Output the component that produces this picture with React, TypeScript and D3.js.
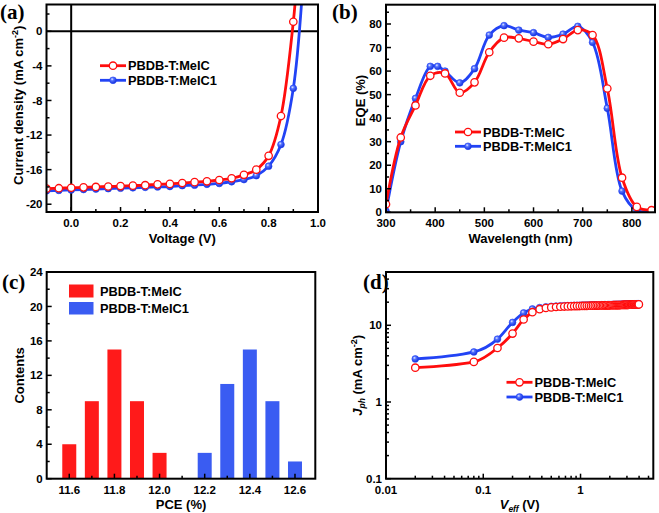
import React from 'react';
import * as d3 from 'd3';

// ---------- Data ----------
const seriesNames = ['PBDB-T:MeIC', 'PBDB-T:MeIC1'];

// (a) J-V
const jvVoltage = [-0.1, -0.05, 0, 0.05, 0.1, 0.15, 0.2, 0.25, 0.3, 0.35, 0.4, 0.45, 0.5, 0.55, 0.6, 0.65, 0.7, 0.75, 0.8, 0.85, 0.9];
const jvMeIC = [-18.2, -18.15, -18.1, -18.05, -18.0, -17.95, -17.9, -17.85, -17.8, -17.7, -17.65, -17.55, -17.45, -17.35, -17.2, -17.0, -16.6, -16.0, -14.4, -9.8, 1.1];
const jvMeIC1 = [-18.45, -18.4, -18.35, -18.3, -18.25, -18.2, -18.15, -18.1, -18.05, -18.0, -17.95, -17.85, -17.8, -17.7, -17.6, -17.4, -17.15, -16.7, -15.6, -13.1, -6.6];
const jvTailMeIC: [number, number] = [0.912, 5];
const jvTailMeIC1: [number, number] = [0.94, 6];
const jvXTicks = [0.0, 0.2, 0.4, 0.6, 0.8, 1.0];
const jvYTicks = [-20, -16, -12, -8, -4, 0];

// (b) EQE
const eqeWlMeIC = [300, 330, 360, 390, 420, 450, 480, 510, 540, 570, 600, 630, 660, 690, 720, 750, 780, 810, 840];
const eqeMeIC = [3.4, 31.8, 45.4, 58, 59, 50.8, 55.2, 68, 74.2, 73.9, 72.5, 71.4, 73.6, 77.4, 75.3, 52.6, 14.7, 2.3, 0.9];
const eqeWlMeIC1 = [300, 330, 360, 390, 405, 420, 450, 480, 510, 540, 570, 600, 630, 660, 690, 720, 750, 780, 810, 840];
const eqeMeIC1 = [0.5, 30, 48.4, 62, 62, 60, 55, 61, 75.3, 79.3, 77.4, 76.3, 74.3, 75.7, 79, 72.2, 44.2, 9, 0.8, 0.3];
const eqeXTicks = [300, 400, 500, 600, 700, 800];
const eqeYTicks = [0, 10, 20, 30, 40, 50, 60, 70, 80];

// (c) PCE histogram
const pceBinsMeIC = [11.6, 11.7, 11.8, 11.9, 12.0];
const pceCountsMeIC = [4, 9, 15, 9, 3];
const pceBinsMeIC1 = [12.2, 12.3, 12.4, 12.5, 12.6];
const pceCountsMeIC1 = [3, 11, 15, 9, 2];
const pceXTicks = [11.6, 11.8, 12.0, 12.2, 12.4, 12.6];
const pceYTicks = [0, 4, 8, 12, 16, 20, 24];

// (d) Jph - Veff
const veff = [0.02, 0.08, 0.14, 0.20, 0.26, 0.32, 0.38, 0.44, 0.50, 0.56,
  0.62, 0.68, 0.74, 0.80, 0.86, 0.92, 0.98, 1.04, 1.10, 1.16,
  1.22, 1.28, 1.34, 1.40, 1.46, 1.52, 1.58, 1.64, 1.70, 1.76,
  1.82, 1.88, 1.94, 2.00, 2.06, 2.12, 2.18, 2.24, 2.30, 2.36,
  2.42, 2.48, 2.54, 2.60, 2.66, 2.72, 2.78, 2.84, 2.90, 2.96,
  3.02, 3.08, 3.14, 3.20, 3.26, 3.32, 3.38, 3.44, 3.50, 3.56,
  3.62, 3.68, 3.74, 3.80, 3.86, 3.92, 3.98];
const jphMeIC = [2.8, 3.33, 5.06, 7.8, 11.9, 14.8, 16.2, 16.8, 17.1, 17.3,
  17.45, 17.55, 17.62, 17.68, 17.73, 17.78, 17.82, 17.86, 17.9, 17.93,
  17.96, 17.99, 18.02, 18.04, 18.06, 18.08, 18.1, 18.12, 18.14, 18.16,
  18.18, 18.2, 18.21, 18.22, 18.24, 18.25, 18.27, 18.28, 18.3, 18.31,
  18.33, 18.34, 18.36, 18.37, 18.39, 18.4, 18.42, 18.43, 18.45, 18.46,
  18.48, 18.49, 18.51, 18.52, 18.54, 18.55, 18.57, 18.58, 18.6, 18.61,
  18.63, 18.64, 18.66, 18.67, 18.69, 18.7, 18.72];
const jphMeIC1 = [3.64, 4.49, 6.6, 10.9, 14.5, 16.3, 17.0, 17.4, 17.65, 17.8,
  17.9, 17.98, 18.05, 18.1, 18.15, 18.19, 18.23, 18.26, 18.29, 18.32,
  18.35, 18.37, 18.39, 18.41, 18.43, 18.45, 18.47, 18.49, 18.51, 18.53,
  18.55, 18.56, 18.57, 18.58, 18.6, 18.61, 18.63, 18.64, 18.66, 18.67,
  18.69, 18.7, 18.72, 18.73, 18.75, 18.76, 18.78, 18.79, 18.81, 18.82,
  18.84, 18.85, 18.87, 18.88, 18.9, 18.91, 18.93, 18.94, 18.96, 18.97,
  18.99, 19.0, 19.02, 19.03, 19.05, 19.06, 19.08];
const veffTicks = [0.01, 0.1, 1];
const veffTickLabels = ['0.01', '0.1', '1'];
const jphTicks = [0.1, 1, 10];
const jphTickLabels = ['0.1', '1', '10'];

// ---------- Style ----------
const FONT = "'Liberation Sans', Arial, Helvetica, sans-serif";
const SERIF = "'Liberation Serif', 'Times New Roman', serif";
const RED = '#ff0d0d';
const BLUE = '#2243f5';
const BAR_RED = '#ff1a1a';
const BAR_BLUE = '#3a5cf2';
const TICK_FS = 11.5;
const TITLE_FS = 13;
const LEG_FS = 12.8;

type Scale = (v: number) => number;

function Frame({ l, t, r, b, id }: { l: number; t: number; r: number; b: number; id: string }) {
  return (
    <>
      <clipPath id={id}>
        <rect x={l} y={t} width={r - l} height={b - t} />
      </clipPath>
    </>
  );
}

function Border({ l, t, r, b }: { l: number; t: number; r: number; b: number }) {
  return <rect x={l} y={t} width={r - l} height={b - t} fill="none" stroke="#000" strokeWidth={2} />;
}

function BottomTicks({ x, b, major, minor, labels }: { x: Scale; b: number; major: number[]; minor: number[]; labels: string[] }) {
  return (
    <g>
      {minor.map((v, i) => (
        <line key={'m' + i} x1={x(v)} x2={x(v)} y1={b} y2={b - 3} stroke="#000" strokeWidth={1.5} />
      ))}
      {major.map((v, i) => (
        <line key={'M' + i} x1={x(v)} x2={x(v)} y1={b} y2={b - 5} stroke="#000" strokeWidth={1.5} />
      ))}
      {major.map((v, i) => (
        <text key={'t' + i} x={x(v)} y={b + 15} textAnchor="middle" fontFamily={FONT} fontWeight="bold" fontSize={TICK_FS}>
          {labels[i]}
        </text>
      ))}
    </g>
  );
}

function LeftTicks({ y, l, major, minor, labels }: { y: Scale; l: number; major: number[]; minor: number[]; labels: string[] }) {
  return (
    <g>
      {minor.map((v, i) => (
        <line key={'m' + i} x1={l} x2={l + 3} y1={y(v)} y2={y(v)} stroke="#000" strokeWidth={1.5} />
      ))}
      {major.map((v, i) => (
        <line key={'M' + i} x1={l} x2={l + 5} y1={y(v)} y2={y(v)} stroke="#000" strokeWidth={1.5} />
      ))}
      {major.map((v, i) => (
        <text key={'t' + i} x={l - 4} y={y(v)} dy="0.36em" textAnchor="end" fontFamily={FONT} fontWeight="bold" fontSize={TICK_FS}>
          {labels[i]}
        </text>
      ))}
    </g>
  );
}

function RedMarker({ cx, cy }: { cx: number; cy: number }) {
  return <circle cx={cx} cy={cy} r={3.7} fill="#fff" stroke={RED} strokeWidth={1.3} />;
}
function BlueMarker({ cx, cy }: { cx: number; cy: number }) {
  return <circle cx={cx} cy={cy} r={3.4} fill="url(#ballGrad)" stroke={BLUE} strokeWidth={0.6} />;
}

function LineLegend({ x, y, gap }: { x: number; y: number; gap: number }) {
  return (
    <g>
      {[0, 1].map((k) => {
        const yy = y + k * gap;
        const col = k === 0 ? RED : BLUE;
        return (
          <g key={k}>
            <line x1={x} x2={x + 26} y1={yy} y2={yy} stroke={col} strokeWidth={2.8} />
            {k === 0 ? <RedMarker cx={x + 13} cy={yy} /> : <BlueMarker cx={x + 13} cy={yy} />}
            <text x={x + 28} y={yy} dy="0.36em" fontFamily={FONT} fontWeight="bold" fontSize={LEG_FS}>
              {seriesNames[k]}
            </text>
          </g>
        );
      })}
    </g>
  );
}

function PanelLabel({ x, y, s }: { x: number; y: number; s: string }) {
  return (
    <text x={x} y={y} fontFamily={SERIF} fontWeight="bold" fontSize={21}>
      {s}
    </text>
  );
}

export default function App() {
  // ---- Panel A ----
  const A = { l: 46.5, t: 4.5, r: 318, b: 212 };
  const xA = d3.scaleLinear().domain([-0.1, 1.0]).range([A.l, A.r]);
  const yA = d3.scaleLinear().domain([-20.9, 3.1]).range([A.b, A.t]);
  const lineA = d3.line<[number, number]>().x((d) => xA(d[0])).y((d) => yA(d[1])).curve(d3.curveCatmullRom.alpha(0.5));
  const ptsA0: [number, number][] = jvVoltage.map((v, i) => [v, jvMeIC[i]]);
  const ptsA1: [number, number][] = jvVoltage.map((v, i) => [v, jvMeIC1[i]]);

  // ---- Panel B ----
  const B = { l: 386, t: 4.7, r: 655, b: 212.3 };
  const xB = d3.scaleLinear().domain([300, 847]).range([B.l, B.r]);
  const yB = d3.scaleLinear().domain([0, 88.2]).range([B.b, B.t]);
  const lineB = d3.line<[number, number]>().x((d) => xB(d[0])).y((d) => yB(d[1])).curve(d3.curveCatmullRom.alpha(0.5));
  const ptsB0: [number, number][] = eqeWlMeIC.map((v, i) => [v, eqeMeIC[i]]);
  const ptsB1: [number, number][] = eqeWlMeIC1.map((v, i) => [v, eqeMeIC1[i]]);

  // ---- Panel C ----
  const C = { l: 46.7, t: 272, r: 315.3, b: 478.7 };
  const xC = d3.scaleLinear().domain([11.5, 12.69]).range([C.l, C.r]);
  const yC = d3.scaleLinear().domain([0, 24]).range([C.b, C.t]);
  const barW = xC(11.562) - xC(11.5);

  // ---- Panel D ----
  const D = { l: 386, t: 272, r: 653.3, b: 478.7 };
  const xD = d3.scaleLog().domain([0.01, 5.6]).range([D.l, D.r]);
  const yD = d3.scaleLog().domain([0.1, 49.5]).range([D.b, D.t]);
  const lineD = d3.line<[number, number]>().x((d) => xD(d[0])).y((d) => yD(d[1])).curve(d3.curveMonotoneX);
  const ptsD0: [number, number][] = veff.map((v, i) => [v, jphMeIC[i]]);
  const ptsD1: [number, number][] = veff.map((v, i) => [v, jphMeIC1[i]]);

  const logMinor = (lo: number, hi: number) => {
    const out: number[] = [];
    for (let dec = lo; dec < hi; dec *= 10) for (let k = 2; k <= 9; k++) out.push(dec * k);
    return out;
  };
  const xDMinor = logMinor(0.01, 10).filter((v) => v < 5.6);
  const yDMinor = logMinor(0.1, 100).filter((v) => v < 49.5);

  const fmt1 = d3.format('.1f');

  return (
    <svg width={659} height={513} style={{ position: 'absolute', left: 0, top: 0, background: '#fff' }}>
      <defs>
        <radialGradient id="ballGrad" cx="0.38" cy="0.34" r="0.65">
          <stop offset="0" stopColor="#e4ebff" />
          <stop offset="0.35" stopColor="#5472ff" />
          <stop offset="1" stopColor="#1530d8" />
        </radialGradient>
        <Frame {...A} id="clipA" />
        <Frame {...B} id="clipB" />
        <Frame {...C} id="clipC" />
        <Frame {...D} id="clipD" />
      </defs>
      <rect x={0} y={0} width={659} height={513} fill="#fff" />

      {/* ===== Panel A ===== */}
      <g clipPath="url(#clipA)">
        <line x1={xA(0)} x2={xA(0)} y1={A.t} y2={A.b} stroke="#000" strokeWidth={2} />
        <line x1={A.l} x2={A.r} y1={yA(0)} y2={yA(0)} stroke="#000" strokeWidth={2} />
        <path d={lineA([...ptsA1, jvTailMeIC1]) || ''} fill="none" stroke={BLUE} strokeWidth={2.8} />
        {ptsA1.map((p, i) => <BlueMarker key={i} cx={xA(p[0])} cy={yA(p[1])} />)}
        <path d={lineA([...ptsA0, jvTailMeIC]) || ''} fill="none" stroke={RED} strokeWidth={2.8} />
        {ptsA0.map((p, i) => <RedMarker key={i} cx={xA(p[0])} cy={yA(p[1])} />)}
      </g>
      <Border {...A} />
      <BottomTicks x={xA} b={A.b} major={jvXTicks} minor={[0.1, 0.3, 0.5, 0.7, 0.9]} labels={jvXTicks.map(fmt1)} />
      <LeftTicks y={yA} l={A.l} major={jvYTicks} minor={[-18, -14, -10, -6, -2, 2]} labels={jvYTicks.map(String)} />
      <LineLegend x={100} y={65.7} gap={14.6} />
      <text x={(A.l + A.r) / 2} y={243} textAnchor="middle" fontFamily={FONT} fontWeight="bold" fontSize={TITLE_FS}>Voltage (V)</text>
      <text transform={`translate(18,${(A.t + A.b) / 2 - 3}) rotate(-90)`} textAnchor="middle" dy="0.36em" fontFamily={FONT} fontWeight="bold" fontSize={TITLE_FS}>
        Current density (mA cm<tspan dy="-5" fontSize={9}>-2</tspan><tspan dy="5">)</tspan>
      </text>
      <PanelLabel x={0} y={19} s="(a)" />

      {/* ===== Panel B ===== */}
      <g clipPath="url(#clipB)">
        <path d={lineB(ptsB1) || ''} fill="none" stroke={BLUE} strokeWidth={2.8} />
        {ptsB1.map((p, i) => <BlueMarker key={i} cx={xB(p[0])} cy={yB(p[1])} />)}
        <path d={lineB(ptsB0) || ''} fill="none" stroke={RED} strokeWidth={2.8} />
        {ptsB0.map((p, i) => <RedMarker key={i} cx={xB(p[0])} cy={yB(p[1])} />)}
      </g>
      <Border {...B} />
      <BottomTicks x={xB} b={B.b} major={eqeXTicks} minor={[350, 450, 550, 650, 750]} labels={eqeXTicks.map(String)} />
      <LeftTicks y={yB} l={B.l} major={eqeYTicks} minor={[5, 15, 25, 35, 45, 55, 65, 75, 85]} labels={eqeYTicks.map(String)} />
      <LineLegend x={455} y={132} gap={14.3} />
      <text x={(B.l + B.r) / 2} y={243} textAnchor="middle" fontFamily={FONT} fontWeight="bold" fontSize={TITLE_FS}>Wavelength (nm)</text>
      <text transform={`translate(360,${(B.t + B.b) / 2 - 8}) rotate(-90)`} textAnchor="middle" dy="0.36em" fontFamily={FONT} fontWeight="bold" fontSize={TITLE_FS}>EQE (%)</text>
      <PanelLabel x={332} y={19} s="(b)" />

      {/* ===== Panel C ===== */}
      <g clipPath="url(#clipC)">
        {pceBinsMeIC.map((v, i) => (
          <rect key={'r' + i} x={xC(v) - barW / 2} y={yC(pceCountsMeIC[i])} width={barW} height={yC(0) - yC(pceCountsMeIC[i])} fill={BAR_RED} />
        ))}
        {pceBinsMeIC1.map((v, i) => (
          <rect key={'b' + i} x={xC(v) - barW / 2} y={yC(pceCountsMeIC1[i])} width={barW} height={yC(0) - yC(pceCountsMeIC1[i])} fill={BAR_BLUE} />
        ))}
      </g>
      <Border {...C} />
      <BottomTicks x={xC} b={C.b} major={pceXTicks} minor={[11.7, 11.9, 12.1, 12.3, 12.5]} labels={pceXTicks.map(fmt1)} />
      <LeftTicks y={yC} l={C.l} major={pceYTicks} minor={[2, 6, 10, 14, 18, 22]} labels={pceYTicks.map(String)} />
      <rect x={69} y={284.5} width={24.5} height={13} fill={BAR_RED} />
      <text x={100} y={291} dy="0.36em" fontFamily={FONT} fontWeight="bold" fontSize={LEG_FS}>{seriesNames[0]}</text>
      <rect x={69} y={302} width={24.5} height={12.5} fill={BAR_BLUE} />
      <text x={100} y={308} dy="0.36em" fontFamily={FONT} fontWeight="bold" fontSize={LEG_FS}>{seriesNames[1]}</text>
      <text x={(C.l + C.r) / 2} y={509} textAnchor="middle" fontFamily={FONT} fontWeight="bold" fontSize={TITLE_FS}>PCE (%)</text>
      <text transform={`translate(19,${(C.t + C.b) / 2}) rotate(-90)`} textAnchor="middle" dy="0.36em" fontFamily={FONT} fontWeight="bold" fontSize={TITLE_FS}>Contents</text>
      <PanelLabel x={2} y={289} s="(c)" />

      {/* ===== Panel D ===== */}
      <g clipPath="url(#clipD)">
        <path d={lineD(ptsD1) || ''} fill="none" stroke={BLUE} strokeWidth={2.8} />
        {ptsD1.map((p, i) => <BlueMarker key={i} cx={xD(p[0])} cy={yD(p[1])} />)}
        <path d={lineD(ptsD0) || ''} fill="none" stroke={RED} strokeWidth={2.8} />
        {ptsD0.map((p, i) => <RedMarker key={i} cx={xD(p[0])} cy={yD(p[1])} />)}
      </g>
      <Border {...D} />
      <BottomTicks x={xD} b={D.b} major={veffTicks} minor={xDMinor} labels={veffTickLabels} />
      <LeftTicks y={yD} l={D.l} major={jphTicks} minor={yDMinor} labels={jphTickLabels} />
      <LineLegend x={506.5} y={382.3} gap={14.7} />
      <text x={(D.l + D.r) / 2} y={509} textAnchor="middle" fontFamily={FONT} fontWeight="bold" fontSize={TITLE_FS}>
        <tspan fontStyle="italic">V</tspan><tspan fontStyle="italic" fontSize={8.5} dy="3">eff</tspan><tspan dy="-3"> (V)</tspan>
      </text>
      <text transform={`translate(357,${(D.t + D.b) / 2}) rotate(-90)`} textAnchor="middle" dy="0.36em" fontFamily={FONT} fontWeight="bold" fontSize={TITLE_FS}>
        <tspan fontStyle="italic">J</tspan><tspan fontStyle="italic" fontSize={8.5} dy="3">ph</tspan><tspan dy="-3"> (mA cm</tspan><tspan dy="-5" fontSize={9}>-2</tspan><tspan dy="5">)</tspan>
      </text>
      <PanelLabel x={363} y={289} s="(d)" />
    </svg>
  );
}
